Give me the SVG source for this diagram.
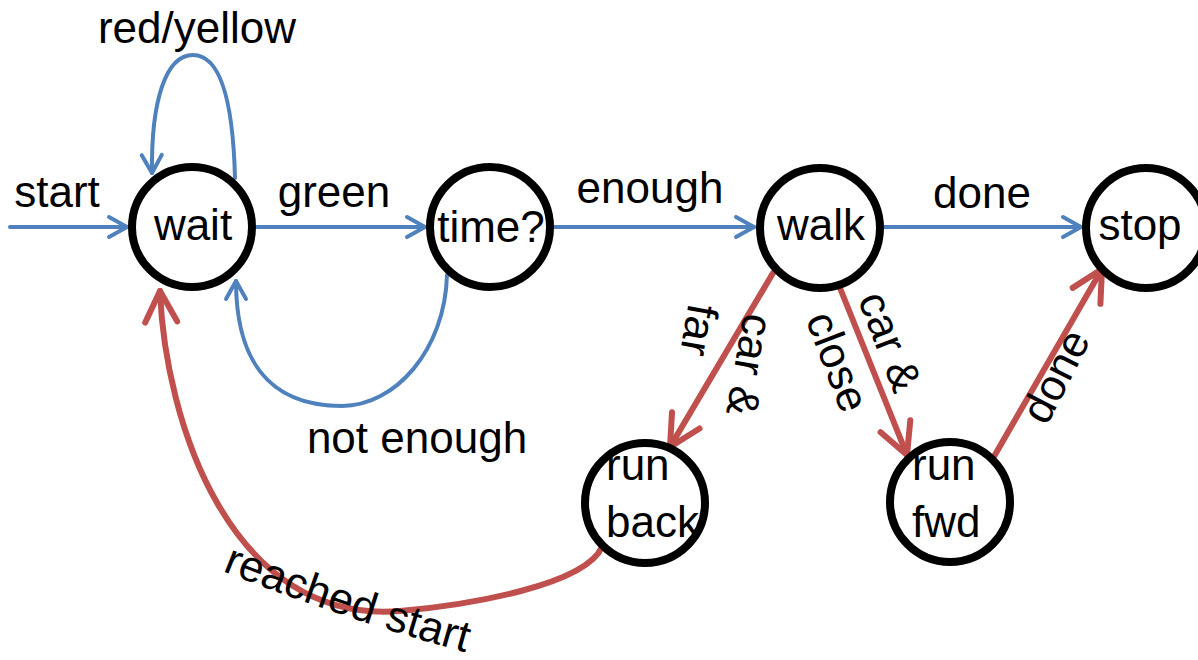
<svg xmlns="http://www.w3.org/2000/svg" width="1198" height="660" viewBox="0 0 1198 660">
<style>
.node{fill:#fff;stroke:#000;stroke-width:8}
.t{font-family:"Liberation Sans",Arial,sans-serif;font-size:44px;fill:#000}
.m{text-anchor:middle}
.blue{fill:none;stroke:#4F81BD;stroke-width:4;stroke-linecap:round}
.red{fill:none;stroke:#C0504D;stroke-width:6;stroke-linecap:round}
</style>
<defs>
<marker id="ab" markerUnits="userSpaceOnUse" orient="auto" refX="0" refY="0" viewBox="-40 -20 45 40" markerWidth="45" markerHeight="40" overflow="visible">
<path d="M-18,-10 L0,0 L-18,10" fill="none" stroke="#4F81BD" stroke-width="4" stroke-linecap="round" stroke-linejoin="round"/>
</marker>
<marker id="ar" markerUnits="userSpaceOnUse" orient="auto" refX="0" refY="0" viewBox="-40 -20 45 40" markerWidth="45" markerHeight="40" overflow="visible">
<path d="M-31,-16 L0,0 L-31,16" fill="none" stroke="#C0504D" stroke-width="6" stroke-linecap="round" stroke-linejoin="round"/>
</marker>
<path id="rsPath" d="M222,571 Q340,618 475,655 L520,667"/>
</defs>
<g id="connectors">
<path class="blue" marker-end="url(#ab)" d="M10,227 L127,227"/>
<path class="blue" marker-end="url(#ab)" d="M235,178 C233,100 220,55 193,55 C166,55 151,100 152,173"/>
<path class="blue" marker-end="url(#ab)" d="M257,227 L425,227"/>
<path class="blue" marker-end="url(#ab)" d="M554,227 L754,227"/>
<path class="blue" marker-end="url(#ab)" d="M884,227 L1081,227"/>
<path class="blue" marker-end="url(#ab)" d="M447,275 C445,350 395,406 342,406 C265,406 236,355 236,281"/>
<path class="red" marker-end="url(#ar)" d="M773,273 L670,447"/>
<path class="red" marker-end="url(#ar)" d="M840,288 L907,455"/>
<path class="red" marker-end="url(#ar)" d="M992,460 L1102,269"/>
<path class="red" marker-end="url(#ar)" d="M602,547 C585,585 470,605 400,611 C230,625 165,420 160,291"/>
</g>
<g id="node-wait"><circle class="node" cx="192" cy="227" r="60"/><text class="t m" x="193" y="240">wait</text></g>
<g id="node-time"><circle class="node" cx="490" cy="227" r="60"/><text class="t m" x="491" y="242">time?</text></g>
<g id="node-walk"><circle class="node" cx="820" cy="228" r="60"/><text class="t m" x="821" y="240">walk</text></g>
<g id="node-stop"><circle class="node" cx="1146" cy="228" r="60"/><text class="t m" x="1140" y="240">stop</text></g>
<g id="node-runback"><circle class="node" cx="645" cy="503" r="60"/><text class="t" x="606" y="480">run</text><text class="t" x="606" y="537">back</text></g>
<g id="node-runfwd"><circle class="node" cx="950" cy="502" r="60"/><text class="t" x="912" y="480">run</text><text class="t" x="912" y="537">fwd</text></g>
<g id="labels">
<text class="t m" x="57" y="207">start</text>
<text class="t m" x="197" y="43">red/yellow</text>
<text class="t m" x="334" y="207">green</text>
<text class="t m" x="650" y="203">enough</text>
<text class="t m" x="982" y="208">done</text>
<text class="t m" x="417" y="453">not enough</text>
<g transform="translate(744,312) rotate(100)"><text class="t" x="0" y="0">car &amp;</text><text class="t" x="0" y="56">far</text></g>
<g transform="translate(876,347) rotate(69)"><text class="t m" x="0" y="0">car &amp;</text><text class="t m" x="0" y="56">close</text></g>
<g transform="translate(1069,383) rotate(-63)"><text class="t m" x="0" y="0">done</text></g>
<text class="t"><textPath href="#rsPath">reached start</textPath></text>
</g>
</svg>
